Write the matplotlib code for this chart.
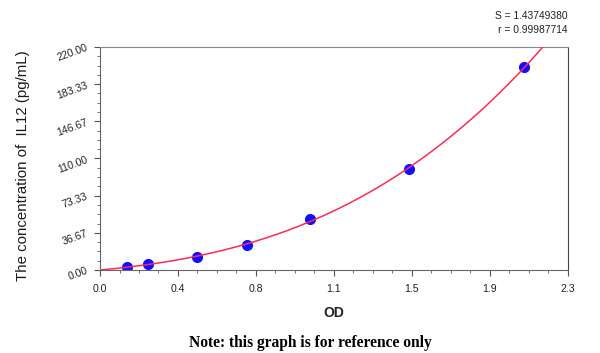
import numpy as np
import matplotlib
matplotlib.use('Agg')
import matplotlib.pyplot as plt
from matplotlib.ticker import FixedLocator, AutoMinorLocator, FormatStrFormatter

# standard curve points
od = [0.131, 0.238, 0.479, 0.722, 1.033, 1.520, 2.087]
conc = [3.12, 6.25, 12.5, 25.0, 50.0, 100.0, 200.0]
fit_text = ['S = 1.43749380', 'r = 0.99987714']

x_max = 2.3
y_max = 220.0

# cubic fit through the origin
x = np.array(od)
y = np.array(conc)
A = np.column_stack([x, x**2, x**3])
coef = np.linalg.lstsq(A, y, rcond=None)[0]
xs = np.linspace(0, x_max, 400)
ys = coef[0]*xs + coef[1]*xs**2 + coef[2]*xs**3

fig = plt.figure(figsize=(6, 3.53), dpi=100)
ax = fig.add_axes([0.1667, 0.235, 0.7795, 0.632])

ax.plot(od, conc, 'o', color='#1010ff', markersize=7, zorder=2)
ax.plot(xs, ys, color='#ff2a55', linewidth=1.1, zorder=3)

ax.set_xlim(0, x_max)
ax.set_ylim(0, y_max)
ax.xaxis.set_major_locator(FixedLocator(np.linspace(0, x_max, 7)))
ax.yaxis.set_major_locator(FixedLocator(np.linspace(0, y_max, 7)))
ax.xaxis.set_minor_locator(AutoMinorLocator(4))
ax.yaxis.set_minor_locator(AutoMinorLocator(4))
ax.xaxis.set_major_formatter(FormatStrFormatter('%.1f'))
ax.yaxis.set_major_formatter(FormatStrFormatter('%.2f'))

ax.tick_params(which='major', length=4, width=0.8, color='#555555',
               labelsize=7.6, labelcolor='#222222')
ax.tick_params(which='minor', length=2.5, width=0.7, color='#777777')
ax.tick_params(axis='x', pad=6)
ax.tick_params(axis='y', pad=4)
for lbl in ax.get_yticklabels():
    lbl.set_rotation(20)
    lbl.set_family('Liberation Sans')
for lbl in ax.get_xticklabels():
    lbl.set_family('Liberation Sans')

for side in ['top', 'right']:
    ax.spines[side].set_color('#888888')
for side in ['left', 'bottom']:
    ax.spines[side].set_color('#666666')
ax.spines['right'].set_color('#444444')

ax.set_xlabel('OD', fontsize=10, fontweight='bold', color='#222222',
              family='Liberation Sans', labelpad=9)
fig.text(0.038, 0.532, 'The concentration of  IL12 (pg/mL)', rotation=90,
         ha='center', va='center', fontsize=10.8,
         color='#1a1a1a', family='Liberation Sans')

fig.text(0.946, 0.955, fit_text[0], ha='right', va='center', fontsize=7.4,
         color='#222222', family='Liberation Sans')
fig.text(0.946, 0.915, fit_text[1], ha='right', va='center', fontsize=7.4,
         color='#222222', family='Liberation Sans')

fig.text(0.518, 0.028, 'Note: this graph is for reference only', ha='center',
         va='center', fontsize=11.2, fontweight='bold', family='Liberation Serif')

fig.savefig('out.png', dpi=100)
